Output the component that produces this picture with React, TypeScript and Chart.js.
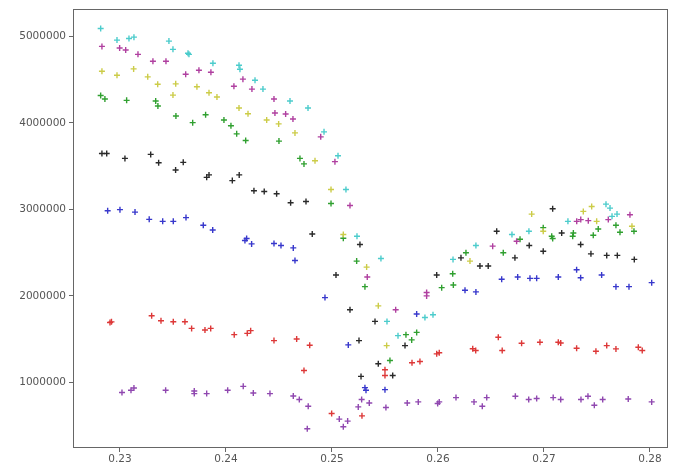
import React, { useEffect, useRef } from "react";
import { Chart, registerables } from "chart.js";

Chart.register(...registerables);

// Tick labels
const xTicks = [0.23, 0.24, 0.25, 0.26, 0.27, 0.28];
const yTicks = [1000000, 2000000, 3000000, 4000000, 5000000];

// Series (x values, y values in millions)
const cyanX = [0.22818, 0.22972, 0.23085, 0.23132, 0.23462, 0.235, 0.23642, 0.23651, 0.23877, 0.24123, 0.24132, 0.24274, 0.24349, 0.24604, 0.24774, 0.24925, 0.25057, 0.25132, 0.25236, 0.25462, 0.25519, 0.25623, 0.25877, 0.25953, 0.26142, 0.26358, 0.26698, 0.26858, 0.27226, 0.27585, 0.27623, 0.27642, 0.27689];
const cyanY = [5.092, 4.958, 4.977, 4.992, 4.946, 4.851, 4.805, 4.793, 4.69, 4.667, 4.621, 4.494, 4.391, 4.253, 4.172, 3.897, 3.621, 3.23, 2.69, 2.433, 1.705, 1.54, 1.75, 1.782, 2.422, 2.583, 2.709, 2.747, 2.862, 3.061, 3.015, 2.92, 2.946];

const magentaX = [0.2283, 0.22997, 0.23054, 0.2317, 0.23311, 0.23434, 0.2362, 0.23745, 0.23858, 0.24075, 0.2416, 0.24245, 0.24453, 0.24462, 0.24563, 0.24632, 0.24894, 0.25028, 0.2517, 0.25333, 0.25601, 0.25893, 0.25893, 0.26516, 0.26742, 0.27309, 0.27347, 0.27418, 0.27607, 0.27811];
const magentaY = [4.885, 4.866, 4.843, 4.793, 4.713, 4.713, 4.563, 4.609, 4.586, 4.425, 4.506, 4.391, 4.276, 4.115, 4.103, 4.046, 3.839, 3.552, 3.046, 2.218, 1.839, 2.04, 2.0, 2.575, 2.632, 2.862, 2.882, 2.87, 2.882, 2.939];

const yellowX = [0.2283, 0.22972, 0.23129, 0.23262, 0.23356, 0.235, 0.23526, 0.23726, 0.2384, 0.23915, 0.24123, 0.24208, 0.24384, 0.24497, 0.24651, 0.2484, 0.24991, 0.25107, 0.25327, 0.25437, 0.25516, 0.26302, 0.26884, 0.26993, 0.27371, 0.2745, 0.27497, 0.2783];
const yellowY = [4.598, 4.552, 4.625, 4.533, 4.448, 4.322, 4.452, 4.418, 4.349, 4.299, 4.172, 4.106, 4.034, 3.989, 3.885, 3.563, 3.23, 2.709, 2.333, 1.885, 1.425, 2.402, 2.946, 2.747, 2.977, 3.034, 2.862, 2.805];

const greenX = [0.22818, 0.22858, 0.23063, 0.23337, 0.23358, 0.23528, 0.23686, 0.23808, 0.23981, 0.24047, 0.24101, 0.24186, 0.245, 0.24698, 0.24736, 0.24991, 0.25107, 0.25233, 0.25311, 0.25698, 0.25752, 0.25799, 0.25547, 0.26035, 0.26145, 0.26139, 0.26264, 0.26616, 0.26774, 0.26993, 0.27073, 0.27082, 0.27277, 0.27271, 0.27465, 0.27512, 0.27679, 0.27717, 0.27849];
const greenY = [4.318, 4.276, 4.261, 4.253, 4.195, 4.08, 4.003, 4.095, 4.034, 3.968, 3.874, 3.797, 3.79, 3.59, 3.526, 3.069, 2.667, 2.402, 2.107, 1.552, 1.491, 1.578, 1.253, 2.095, 2.126, 2.256, 2.498, 2.498, 2.655, 2.789, 2.69, 2.664, 2.728, 2.69, 2.701, 2.774, 2.816, 2.736, 2.747];

const blackX = [0.2283, 0.22875, 0.23047, 0.2329, 0.23365, 0.23525, 0.23597, 0.23818, 0.2384, 0.2406, 0.24125, 0.24264, 0.24361, 0.24478, 0.2461, 0.24755, 0.24814, 0.25038, 0.2517, 0.25264, 0.25255, 0.25406, 0.25274, 0.25437, 0.25573, 0.25689, 0.25988, 0.26217, 0.26396, 0.26474, 0.26554, 0.26726, 0.26861, 0.26993, 0.27082, 0.27167, 0.27346, 0.27443, 0.27592, 0.27692, 0.27852];
const blackY = [3.647, 3.647, 3.59, 3.636, 3.54, 3.456, 3.544, 3.371, 3.399, 3.333, 3.399, 3.215, 3.207, 3.181, 3.077, 3.092, 2.716, 2.241, 1.839, 2.594, 1.483, 1.705, 1.069, 1.215, 1.08, 1.425, 2.241, 2.44, 2.345, 2.345, 2.747, 2.44, 2.583, 2.517, 3.008, 2.728, 2.594, 2.486, 2.468, 2.468, 2.422];

const blueX = [0.22884, 0.23, 0.23142, 0.23276, 0.23403, 0.23503, 0.23623, 0.23786, 0.23875, 0.24179, 0.24195, 0.24242, 0.24453, 0.24519, 0.24635, 0.24651, 0.24934, 0.25154, 0.25311, 0.25321, 0.255, 0.25799, 0.26255, 0.26358, 0.26601, 0.26752, 0.26868, 0.26931, 0.27135, 0.27308, 0.27346, 0.27544, 0.27679, 0.27802, 0.28016];
const blueY = [2.985, 2.997, 2.969, 2.885, 2.862, 2.862, 2.905, 2.816, 2.762, 2.64, 2.663, 2.601, 2.606, 2.583, 2.555, 2.41, 1.98, 1.433, 0.939, 0.908, 0.916, 1.79, 2.066, 2.046, 2.192, 2.218, 2.203, 2.203, 2.218, 2.302, 2.21, 2.241, 2.107, 2.107, 2.153];

const redX = [0.22906, 0.2292, 0.23299, 0.23387, 0.23503, 0.23613, 0.23676, 0.23802, 0.23856, 0.24078, 0.24201, 0.24233, 0.24453, 0.24667, 0.2479, 0.24736, 0.24997, 0.25283, 0.255, 0.255, 0.25755, 0.2583, 0.25988, 0.26012, 0.26328, 0.26356, 0.26569, 0.26606, 0.26789, 0.26962, 0.27135, 0.27158, 0.27308, 0.2749, 0.27592, 0.27679, 0.2789, 0.27927];
const redY = [1.693, 1.7, 1.77, 1.713, 1.701, 1.701, 1.624, 1.606, 1.624, 1.552, 1.567, 1.598, 1.483, 1.502, 1.429, 1.138, 0.64, 0.613, 1.146, 1.08, 1.226, 1.241, 1.33, 1.342, 1.388, 1.368, 1.521, 1.368, 1.452, 1.463, 1.463, 1.456, 1.394, 1.36, 1.425, 1.387, 1.406, 1.368];

const purpleX = [0.23019, 0.23104, 0.23132, 0.23431, 0.23701, 0.23701, 0.23818, 0.24016, 0.24163, 0.24258, 0.24415, 0.24635, 0.24692, 0.24776, 0.24767, 0.25069, 0.25107, 0.25148, 0.25248, 0.2528, 0.25352, 0.25509, 0.2571, 0.25814, 0.25997, 0.26012, 0.2617, 0.2634, 0.26418, 0.2646, 0.2673, 0.26856, 0.26931, 0.27087, 0.27158, 0.27349, 0.27415, 0.27475, 0.27554, 0.27795, 0.28016];
const purpleY = [0.882, 0.908, 0.935, 0.908, 0.87, 0.9, 0.87, 0.908, 0.954, 0.877, 0.87, 0.843, 0.801, 0.724, 0.463, 0.575, 0.486, 0.552, 0.716, 0.801, 0.762, 0.709, 0.762, 0.774, 0.755, 0.774, 0.824, 0.774, 0.724, 0.824, 0.839, 0.801, 0.813, 0.824, 0.801, 0.801, 0.839, 0.736, 0.801, 0.808, 0.774];

const seriesList = [
  { name: "c", xs: cyanX, ys: cyanY, color: "#4ccccc" },
  { name: "m", xs: magentaX, ys: magentaY, color: "#b040a0" },
  { name: "y", xs: yellowX, ys: yellowY, color: "#cccc48" },
  { name: "g", xs: greenX, ys: greenY, color: "#30a030" },
  { name: "k", xs: blackX, ys: blackY, color: "#2a2a2a" },
  { name: "b", xs: blueX, ys: blueY, color: "#3838cc" },
  { name: "r", xs: redX, ys: redY, color: "#dd3838" },
  { name: "p", xs: purpleX, ys: purpleY, color: "#9048b0" },
];

const frame = {
  id: "frame",
  beforeDatasetsDraw(chart: any) {
    const { ctx, chartArea } = chart;
    ctx.save();
    ctx.strokeStyle = "#666666";
    ctx.lineWidth = 1;
    ctx.strokeRect(
      Math.round(chartArea.left) + 0.5,
      Math.round(chartArea.top) + 0.5,
      Math.round(chartArea.right - chartArea.left) - 1,
      Math.round(chartArea.bottom - chartArea.top) - 1
    );
    ctx.restore();
  },
};

export default function App() {
  const ref = useRef<HTMLCanvasElement | null>(null);
  useEffect(() => {
    if (!ref.current) return;
    const chart = new Chart(ref.current, {
      type: "scatter",
      data: {
        datasets: seriesList.map((s) => ({
          label: s.name,
          data: s.xs.map((x, i) => ({ x, y: s.ys[i] * 1000000 })),
          pointStyle: "cross",
          pointRadius: 3,
          pointBorderWidth: 1.4,
          borderColor: s.color,
          backgroundColor: s.color,
        })),
      },
      options: {
        responsive: false,
        animation: false,
        layout: { padding: { left: 0, right: 7, top: 6, bottom: 0 } },
        plugins: { legend: { display: false }, tooltip: { enabled: false } },
        scales: {
          x: {
            type: "linear",
            min: 0.22557,
            max: 0.2817,
            afterBuildTicks: (axis: any) => {
              axis.ticks = xTicks.map((v) => ({ value: v }));
            },
            afterFit: (axis: any) => {
              axis.height = 18;
            },
            grid: { drawOnChartArea: false, drawTicks: true, tickLength: 4, color: "#666666" },
            border: { display: false },
            ticks: {
              padding: 1,
              color: "#555555",
              font: { family: "DejaVu Sans", size: 10.5 },
              callback: (v: any) => Number(v).toFixed(2),
            },
          },
          y: {
            type: "linear",
            min: 241000,
            max: 5314000,
            afterBuildTicks: (axis: any) => {
              axis.ticks = yTicks.map((v) => ({ value: v }));
            },
            afterFit: (axis: any) => {
              axis.width = 73;
            },
            grid: { drawOnChartArea: false, drawTicks: true, tickLength: 4, color: "#666666" },
            border: { display: false },
            ticks: {
              padding: 3,
              color: "#555555",
              font: { family: "DejaVu Sans", size: 10.5 },
              callback: (v: any) => String(v),
            },
          },
        },
      },
      plugins: [frame],
    });
    return () => chart.destroy();
  }, []);
  return (
    <div style={{ position: "fixed", left: 0, top: 0, width: 675, height: 466, background: "#fff" }}>
      <canvas ref={ref} width={675} height={466} />
    </div>
  );
}
